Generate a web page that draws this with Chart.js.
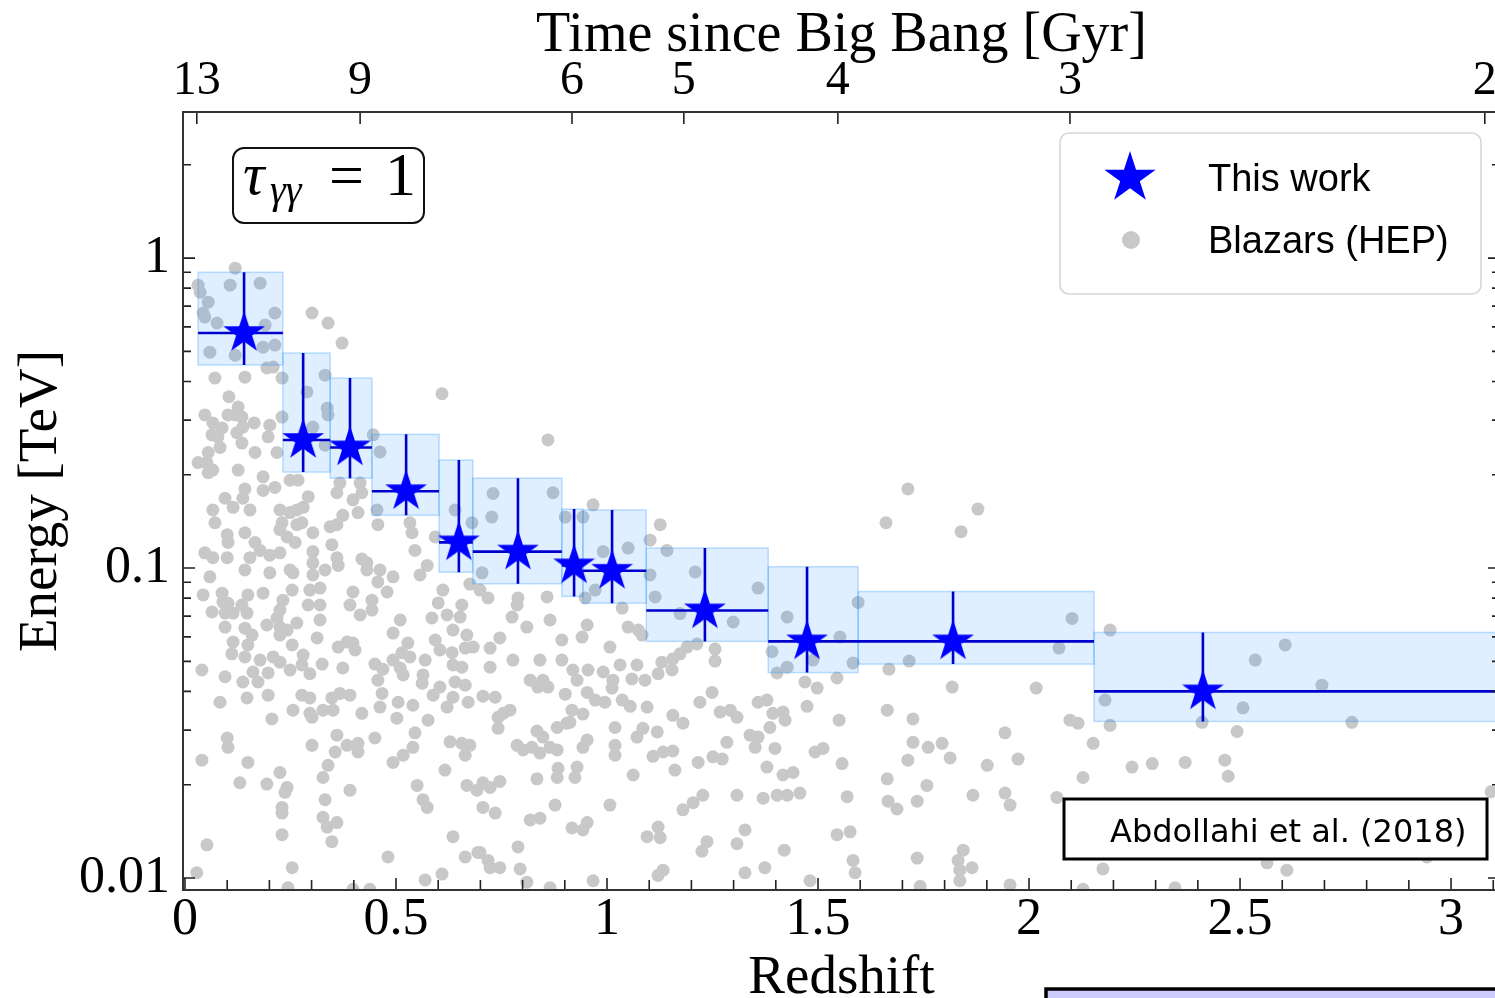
<!DOCTYPE html>
<html>
<head>
<meta charset="utf-8">
<title>Pair-production horizon vs redshift</title>
<script src="https://cdn.jsdelivr.net/npm/chart.js@4.4.1/dist/chart.umd.min.js"></script>
<style>
  html, body { margin: 0; padding: 0; background: #fff; overflow: hidden; }
  canvas { display: block; }
</style>
</head>
<body>
<canvas id="chart" width="1500" height="998"></canvas>
<script>
// redshift bins of this work (tau_gg = 1 energies, TeV)
const binLow  = [0.031, 0.232, 0.344, 0.443, 0.602, 0.682, 0.893, 0.943, 1.093, 1.382, 1.595, 2.154];
const binHigh = [0.232, 0.344, 0.443, 0.602, 0.682, 0.893, 0.943, 1.093, 1.382, 1.595, 2.154, 3.600];
const starZ   = [0.140, 0.280, 0.391, 0.524, 0.649, 0.789, 0.922, 1.012, 1.232, 1.474, 1.820, 2.412];
const starE   = [0.573, 0.259, 0.245, 0.177, 0.121, 0.113, 0.102, 0.098, 0.073, 0.058, 0.058, 0.040];
const eLow    = [0.452, 0.204, 0.195, 0.148, 0.097, 0.089, 0.081, 0.077, 0.058, 0.046, 0.049, 0.032];
const eHigh   = [0.900, 0.494, 0.410, 0.270, 0.223, 0.195, 0.155, 0.154, 0.116, 0.101, 0.084, 0.062];

// highest-energy photons of blazars (redshift, TeV)
const blazarZ = [
  0.031,0.107,0.178,0.055,0.043,0.047,0.076,0.213,0.190,0.301,
  0.339,0.372,0.059,0.119,0.185,0.213,0.194,0.209,0.071,0.142,
  0.230,0.332,0.289,0.337,0.339,0.104,0.126,0.119,0.102,0.047,
  0.066,0.088,0.135,0.137,0.164,0.201,0.230,0.303,0.064,0.078,
  0.083,0.123,0.135,0.197,0.031,0.055,0.052,0.066,0.055,0.166,
  0.218,0.126,0.332,0.446,0.462,0.609,0.185,0.142,0.137,0.185,
  0.213,0.249,0.268,0.367,0.360,0.415,0.419,0.095,0.114,0.154,
  0.066,0.071,0.225,0.249,0.265,0.280,0.292,0.230,0.265,0.277,
  0.374,0.398,0.344,0.360,0.410,0.455,0.457,0.533,0.538,0.142,
  0.100,0.102,0.225,0.242,0.261,0.303,0.348,0.640,0.680,0.593,
  0.166,0.178,0.154,0.047,0.066,0.100,0.201,0.225,0.303,0.360,
  0.363,0.419,0.431,0.431,0.462,0.545,0.574,0.059,0.142,0.201,
  0.249,0.256,0.303,0.332,0.493,0.557,0.119,0.036,0.860,0.730,
  0.872,0.727,
  0.457,0.303,0.043,0.088,0.090,0.102,0.149,0.185,0.254,0.296,
  0.320,0.398,0.443,0.479,0.611,0.064,0.095,0.114,0.135,0.147,
  0.232,0.225,0.218,0.225,0.292,0.320,0.320,0.265,0.194,0.095,
  0.142,0.159,0.391,0.415,0.443,0.510,0.600,0.621,0.656,0.652,
  0.585,0.635,0.493,0.313,0.225,0.242,0.114,0.111,0.149,0.142,
  0.254,0.363,0.384,0.398,0.403,0.528,0.514,0.533,0.593,0.604,
  0.668,0.664,0.683,0.178,0.209,0.225,0.280,0.277,0.296,0.249,
  0.325,0.374,0.450,0.469,0.493,0.510,0.517,0.569,0.564,0.562,
  0.633,0.635,0.656,0.040,0.095,0.137,0.161,0.173,0.197,0.457,
  0.604,0.588,0.621,0.640,0.664,0.635,0.671,0.083,0.147,0.197,
  0.277,0.296,0.256,0.296,0.301,0.327,0.351,0.348,0.367,0.391,
  0.419,0.467,0.462,0.505,0.502,0.540,0.576,0.206,0.100,0.102,
  0.040,0.149,0.301,0.360,0.384,0.410,0.410,0.356,0.450,0.545,
  0.540,0.517,0.493,0.628,0.656,0.675,0.664,0.616,0.130,0.194,
  0.225,0.242,0.237,0.339,0.327,0.391,0.550,0.564,0.574,0.668,
  0.692,0.230,0.230,0.332,0.327,0.337,0.360,0.230,0.348,0.052,
  0.635,0.481,0.664,0.694,0.028,0.254,0.569,0.609,0.244,0.398,
  0.438,
  0.967,0.901,0.943,0.704,1.102,1.114,1.126,1.102,1.142,0.991,
  1.050,0.972,0.675,0.699,0.718,0.789,0.787,0.858,0.948,0.775,
  0.810,0.865,0.953,0.941,1.036,1.050,1.074,1.083,0.746,0.723,
  0.777,0.723,0.841,0.893,0.893,0.919,0.929,0.955,1.007,1.031,
  0.991,1.014,1.012,1.071,1.059,1.090,1.130,1.121,0.818,0.836,
  0.848,0.860,0.901,0.917,0.912,0.943,0.953,0.972,0.995,1.036,
  1.055,1.095,1.019,0.742,0.754,0.770,0.742,0.706,0.735,0.834,
  0.848,0.882,0.905,1.071,1.085,1.119,0.787,0.801,0.822,0.841,
  0.882,0.865,0.953,0.943,1.019,1.019,1.109,1.133,0.884,0.882,
  0.929,0.924,0.834,1.062,0.706,0.723,0.746,0.877,1.007,0.818,
  0.841,0.917,0.943,0.953,1.095,1.121,1.126,0.706,0.735,0.789,
  0.794,0.810,0.967,0.865,1.121,1.133,0.746,0.723,0.718,0.699,
  1.713,1.879,1.661,1.839,1.209,1.358,1.173,1.299,1.256,1.256,
  1.213,1.190,1.156,1.173,1.154,1.427,1.391,1.552,1.488,1.427,
  1.403,1.595,1.583,1.668,1.716,1.545,1.469,1.498,2.102,2.071,
  1.818,2.017,2.192,2.180,2.192,1.249,1.220,1.156,1.180,1.474,
  1.550,1.664,1.725,1.268,1.292,1.308,1.358,1.379,1.393,1.417,
  1.422,1.386,1.339,1.358,1.284,1.351,1.398,1.943,2.097,2.116,
  2.152,1.725,1.713,1.761,1.794,1.813,1.901,1.974,1.156,1.161,
  1.216,1.251,1.273,1.379,1.417,1.441,1.493,1.512,1.557,1.664,
  1.758,1.867,1.943,1.955,2.128,2.066,2.244,1.227,1.204,1.180,
  1.308,1.370,1.403,1.427,1.457,1.569,1.666,1.687,1.735,1.237,
  1.225,1.308,1.327,1.420,1.545,1.576,1.735,1.844,1.832,1.836,
  1.865,1.374,1.327,1.583,1.588,1.481,1.742,1.836,1.955,2.128,
  2.175,
  2.607,2.536,2.694,2.507,2.493,2.765,2.464,2.472,2.370,
  2.292,2.410,3.095,2.564,2.611,2.943,2.346
];
const blazarE = [
  0.818,0.818,0.830,0.721,0.665,0.645,0.617,0.665,0.608,0.665,
  0.617,0.532,0.497,0.486,0.516,0.524,0.442,0.445,0.410,0.413,
  0.410,0.419,0.370,0.328,0.312,0.357,0.331,0.312,0.312,0.312,
  0.294,0.283,0.307,0.285,0.294,0.289,0.307,0.285,0.269,0.265,
  0.245,0.273,0.253,0.265,0.219,0.236,0.219,0.207,0.203,0.236,
  0.236,0.207,0.249,0.269,0.237,0.365,0.197,0.180,0.168,0.178,
  0.182,0.192,0.192,0.188,0.175,0.188,0.175,0.168,0.157,0.154,
  0.154,0.140,0.154,0.151,0.154,0.157,0.170,0.140,0.138,0.140,
  0.148,0.166,0.136,0.138,0.151,0.154,0.138,0.140,0.130,0.130,
  0.128,0.121,0.133,0.126,0.121,0.130,0.119,0.154,0.140,0.126,
  0.121,0.114,0.108,0.112,0.108,0.108,0.110,0.112,0.113,0.108,
  0.102,0.107,0.104,0.0986,0.0986,0.114,0.102,0.0937,0.0986,0.0965,
  0.0986,0.0965,0.104,0.0986,0.0937,0.0950,0.928,0.776,0.259,0.174,
  0.175,0.146,
  0.0902,0.0950,0.0819,0.0830,0.0777,0.0770,0.0819,0.0830,0.0849,0.0849,
  0.0862,0.0837,0.0788,0.0837,0.0849,0.0722,0.0716,0.0716,0.0760,0.0716,
  0.0788,0.0732,0.0690,0.0645,0.0760,0.0760,0.0680,0.0665,0.0655,0.0645,
  0.0640,0.0608,0.0760,0.0706,0.0732,0.0680,0.0772,0.0706,0.0760,0.0695,
  0.0690,0.0631,0.0617,0.0595,0.0608,0.0631,0.0577,0.0529,0.0565,0.0517,
  0.0565,0.0556,0.0577,0.0573,0.0544,0.0573,0.0533,0.0517,0.0586,0.0544,
  0.0608,0.0552,0.0556,0.0505,0.0517,0.0497,0.0524,0.0487,0.0456,0.0469,
  0.0490,0.0476,0.0490,0.0472,0.0505,0.0476,0.0452,0.0505,0.0452,0.0425,
  0.0533,0.0487,0.0479,0.0469,0.0446,0.0429,0.0462,0.0429,0.0459,0.0435,
  0.0413,0.0389,0.0356,0.0429,0.0419,0.0383,0.0369,0.0369,0.0381,0.0389,
  0.0389,0.0381,0.0348,0.0340,0.0330,0.0348,0.0348,0.0381,0.0394,0.0389,
  0.0340,0.0394,0.0356,0.0369,0.0328,0.0361,0.0323,0.0326,0.0283,0.0264,
  0.0240,0.0236,0.0268,0.0289,0.0268,0.0272,0.0255,0.0255,0.0283,0.0294,
  0.0264,0.0249,0.0236,0.0275,0.0272,0.0268,0.0249,0.0223,0.0203,0.0201,
  0.0219,0.0196,0.0189,0.0231,0.0211,0.0192,0.0199,0.0179,0.0169,0.0199,
  0.0192,0.0169,0.0162,0.0179,0.0157,0.0146,0.0151,0.0138,0.0131,0.0128,
  0.0136,0.0117,0.0117,0.0121,0.0104,0.0108,0.00986,0.0103,0.0093,0.0092,
  0.0092,
  0.160,0.146,0.146,0.0965,0.0950,0.0807,0.138,0.123,0.114,0.113,
  0.116,0.0849,0.0888,0.0849,0.0801,0.0801,0.0760,0.0807,0.0801,0.0695,
  0.0645,0.0680,0.0655,0.0599,0.0743,0.0645,0.0631,0.0608,0.0595,0.0552,
  0.0505,0.0479,0.0505,0.0586,0.0505,0.0469,0.0435,0.0469,0.0556,0.0487,
  0.0462,0.0435,0.0410,0.0487,0.0439,0.0435,0.0497,0.0456,0.0435,0.0413,
  0.0435,0.0413,0.0392,0.0348,0.0318,0.0338,0.0397,0.0375,0.0369,0.0375,
  0.0358,0.0356,0.0306,0.0330,0.0340,0.0348,0.0304,0.0386,0.0383,0.0298,
  0.0285,0.0306,0.0316,0.0285,0.0304,0.0296,0.0268,0.0259,0.0264,0.0253,
  0.0259,0.0264,0.0279,0.0264,0.0268,0.0249,0.0247,0.0255,0.0226,0.0211,
  0.0228,0.0211,0.0209,0.0215,0.0203,0.0196,0.0205,0.0172,0.0172,0.0154,
  0.0156,0.0145,0.0143,0.0151,0.0136,0.0146,0.0135,0.0169,0.0162,0.0126,
  0.0107,0.0097,0.0098,0.0093,0.0102,0.0106,0.0108,0.0108,0.0114,0.0121,
  0.180,0.155,0.140,0.131,0.0972,0.0862,0.0713,0.0670,0.0548,0.0501,
  0.0569,0.0556,0.0509,0.0529,0.0469,0.0695,0.0537,0.0599,0.0505,0.0479,
  0.0459,0.0775,0.0494,0.0472,0.0501,0.0442,0.0429,0.0410,0.0688,0.0552,
  0.0413,0.0410,0.0631,0.0375,0.0311,0.0397,0.0369,0.0335,0.0316,0.0358,
  0.0323,0.0348,0.0326,0.0343,0.0348,0.0330,0.0369,0.0375,0.0340,0.0343,
  0.0323,0.0306,0.0289,0.0285,0.0274,0.0264,0.0262,0.0294,0.0323,0.0316,
  0.0272,0.0274,0.0240,0.0264,0.0272,0.0244,0.0231,0.0242,0.0257,0.0223,
  0.0236,0.0246,0.0242,0.0228,0.0215,0.0219,0.0255,0.0262,0.0234,0.0209,
  0.0199,0.0185,0.0188,0.0172,0.0211,0.0182,0.0228,0.0185,0.0175,0.0166,
  0.0185,0.0181,0.0185,0.0185,0.0188,0.0183,0.0177,0.0167,0.0177,0.0131,
  0.0122,0.0129,0.0143,0.0123,0.0138,0.0141,0.0116,0.0123,0.0114,0.0106,
  0.0108,0.0108,0.0104,0.0114,0.0104,0.0098,0.0094,0.0098,0.0095,0.0092,
  0.0107,
  0.0565,0.0505,0.0419,0.0354,0.0297,0.0318,0.0240,0.0213,0.0236,
  0.0234,0.0318,0.0190,0.0112,0.0106,0.0117,0.0093
];

// axes
const zMin = -0.0047, zMax = 3.116;
const eMin = 0.00915, eMax = 2.96;
const xTickValues = [0, 0.5, 1, 1.5, 2, 2.5, 3];
const xTickLabels = ['0', '0.5', '1', '1.5', '2', '2.5', '3'];
const ageTickZ = [0.028, 0.415, 0.917, 1.182, 1.547, 2.097, 3.080];
const ageTickLabels = ['13', '9', '6', '5', '4', '3', '2'];
const yTickValues = [0.01, 0.1, 1];
const yTickLabels = ['0.01', '0.1', '1'];

const SERIF = '"Liberation Serif", "DejaVu Serif", serif';
const SANS = '"Liberation Sans", Arial, sans-serif';

function starCanvas(r, color) {
  const c = document.createElement('canvas');
  const s = Math.ceil(r * 2 + 4);
  c.width = s; c.height = s;
  const g = c.getContext('2d');
  g.translate(s / 2, s / 2);
  g.beginPath();
  for (let i = 0; i < 10; i++) {
    const rad = i % 2 === 0 ? r : r * 0.382;
    const ang = -Math.PI / 2 + i * Math.PI / 5;
    g.lineTo(rad * Math.cos(ang), rad * Math.sin(ang));
  }
  g.closePath();
  g.fillStyle = color;
  g.fill();
  return c;
}

function roundRect(ctx, x, y, w, h, r) {
  ctx.beginPath();
  ctx.moveTo(x + r, y);
  ctx.arcTo(x + w, y, x + w, y + h, r);
  ctx.arcTo(x + w, y + h, x, y + h, r);
  ctx.arcTo(x, y + h, x, y, r);
  ctx.arcTo(x, y, x + w, y, r);
  ctx.closePath();
}

// horizontal axes: fixed height, no extra side padding for edge labels
function fixHeight(h) {
  return s => { s.height = h; s.paddingLeft = 0; s.paddingRight = 0; };
}

const plotStar = starCanvas(22, '#0000ff');
const legendStar = starCanvas(27, '#0000ff');

const whiteBg = {
  id: 'whiteBg',
  beforeDraw(chart) {
    const { ctx, width, height } = chart;
    ctx.save();
    ctx.fillStyle = '#fff';
    ctx.fillRect(0, 0, width, height);
    ctx.restore();
  }
};

// shaded bins and error bars, drawn over the grey points and under the stars
const binBoxes = {
  id: 'binBoxes',
  beforeDatasetDraw(chart, args) {
    if (args.index !== 0) return;
    const { ctx, chartArea: a, scales: { x, y } } = chart;
    ctx.save();
    ctx.beginPath();
    ctx.rect(a.left, a.top, a.right - a.left, a.bottom - a.top);
    ctx.clip();
    binLow.forEach((lo, i) => {
      const x0 = x.getPixelForValue(lo), x1 = x.getPixelForValue(binHigh[i]);
      const y0 = y.getPixelForValue(eHigh[i]), y1 = y.getPixelForValue(eLow[i]);
      ctx.fillStyle = 'rgba(30,144,255,0.14)';
      ctx.fillRect(x0, y0, x1 - x0, y1 - y0);
      ctx.strokeStyle = 'rgba(30,144,255,0.28)';
      ctx.lineWidth = 1.5;
      ctx.strokeRect(x0, y0, x1 - x0, y1 - y0);
    });
    ctx.strokeStyle = '#0000cd';
    ctx.lineWidth = 2.6;
    ctx.beginPath();
    starZ.forEach((z, i) => {
      const px = x.getPixelForValue(z), py = y.getPixelForValue(starE[i]);
      ctx.moveTo(x.getPixelForValue(binLow[i]), py);
      ctx.lineTo(x.getPixelForValue(binHigh[i]), py);
      ctx.moveTo(px, y.getPixelForValue(eHigh[i]));
      ctx.lineTo(px, y.getPixelForValue(eLow[i]));
    });
    ctx.stroke();
    ctx.restore();
  }
};

// boxed frame with inward ticks
const frameTicks = {
  id: 'frameTicks',
  afterDatasetsDraw(chart) {
    const { ctx, chartArea: a, scales: { x, x2, y } } = chart;
    ctx.save();
    ctx.strokeStyle = '#222';
    ctx.lineWidth = 1.6;
    ctx.beginPath();
    for (let k = 0; k * 0.1 <= zMax; k++) {
      const px = x.getPixelForValue(k * 0.1);
      if (px < a.left) continue;
      const len = k % 5 === 0 ? 12 : 10;
      ctx.moveTo(px, a.bottom); ctx.lineTo(px, a.bottom - len);
    }
    x2.ticks.forEach(t => {
      const px = x2.getPixelForValue(t.value);
      ctx.moveTo(px, a.top); ctx.lineTo(px, a.top + 12);
    });
    [0.001, 0.01, 0.1, 1].forEach(dec => {
      for (let m = 1; m <= 9; m++) {
        const v = m * dec;
        if (v < eMin || v > eMax) continue;
        const py = y.getPixelForValue(v);
        const len = m === 1 ? 12 : 8;
        ctx.moveTo(a.left, py); ctx.lineTo(a.left + len, py);
        ctx.moveTo(a.right, py); ctx.lineTo(a.right - len, py);
      }
    });
    ctx.stroke();
    ctx.strokeStyle = '#333';
    ctx.lineWidth = 2;
    ctx.strokeRect(a.left, a.top, a.right - a.left, a.bottom - a.top);
    ctx.restore();
  }
};

// tau label, legend, reference box
const annotations = {
  id: 'annotations',
  afterDraw(chart) {
    const { ctx } = chart;
    const ds = chart.data.datasets;
    ctx.save();

    roundRect(ctx, 233, 148, 191, 75, 11);
    ctx.fillStyle = '#fff';
    ctx.fill();
    ctx.strokeStyle = '#111';
    ctx.lineWidth = 2;
    ctx.stroke();
    ctx.fillStyle = '#000';
    ctx.textBaseline = 'alphabetic';
    ctx.font = 'italic 60px ' + SERIF;
    ctx.fillText('\u03c4', 243, 194);
    ctx.font = 'italic 40px ' + SERIF;
    ctx.fillText('\u03b3\u03b3', 270, 203);
    ctx.font = '62px ' + SERIF;
    ctx.fillText('=', 329, 196);
    ctx.fillText('1', 385, 195);

    roundRect(ctx, 1060, 133, 421, 161, 9);
    ctx.fillStyle = 'rgba(255,255,255,0.85)';
    ctx.fill();
    ctx.strokeStyle = '#d6d6d6';
    ctx.lineWidth = 1.6;
    ctx.stroke();
    ctx.drawImage(legendStar, 1130 - legendStar.width / 2, 178 - legendStar.height / 2);
    ctx.beginPath();
    ctx.arc(1131, 240, 9, 0, Math.PI * 2);
    ctx.fillStyle = ds[1].backgroundColor;
    ctx.fill();
    ctx.fillStyle = '#000';
    ctx.font = '38px ' + SANS;
    ctx.fillText(ds[0].label, 1208, 191);
    ctx.fillText(ds[1].label, 1208, 253);

    ctx.fillStyle = '#fff';
    ctx.fillRect(1064, 799, 423, 60);
    ctx.strokeStyle = '#000';
    ctx.lineWidth = 3;
    ctx.strokeRect(1064, 799, 423, 60);
    ctx.fillStyle = '#000';
    ctx.font = '32px "DejaVu Sans", sans-serif';
    ctx.fillText('Abdollahi et al. (2018)', 1110, 842);

    ctx.fillStyle = '#ccccff';
    ctx.fillRect(1046, 989, 470, 30);
    ctx.strokeStyle = '#000';
    ctx.lineWidth = 3.5;
    ctx.strokeRect(1046, 989, 470, 30);
    ctx.restore();
  }
};

new Chart(document.getElementById('chart'), {
  type: 'scatter',
  data: {
    datasets: [
      {
        label: 'This work',
        data: starZ.map((z, i) => ({ x: z, y: starE[i] })),
        pointStyle: plotStar,
        pointRadius: 22,
        backgroundColor: '#0000ff',
        clip: 0
      },
      {
        label: 'Blazars (HEP)',
        data: blazarZ.map((z, i) => ({ x: z, y: blazarE[i] })),
        pointRadius: 6.5,
        pointBorderWidth: 0,
        backgroundColor: '#c8c8c8',
        borderColor: '#c8c8c8',
        clip: 0
      }
    ]
  },
  options: {
    responsive: false,
    animation: false,
    events: [],
    layout: { padding: 0, autoPadding: false },
    plugins: { legend: { display: false }, tooltip: { enabled: false } },
    scales: {
      x: {
        type: 'linear', position: 'bottom', bounds: 'data', min: zMin, max: zMax,
        afterBuildTicks: s => { s.ticks = xTickValues.map(v => ({ value: v })); },
        afterFit: fixHeight(108),
        grid: { display: false, drawTicks: false },
        border: { display: false },
        ticks: {
          autoSkip: false, maxRotation: 0, padding: -1, color: '#000',
          font: { family: SERIF, size: 52 },
          callback: (v, i) => xTickLabels[i]
        },
        title: { display: true, text: 'Redshift', color: '#000', font: { family: SERIF, size: 55, lineHeight: 1 }, padding: { top: 0, bottom: -8 } }
      },
      x2: {
        type: 'linear', position: 'top', bounds: 'data', min: zMin, max: zMax,
        afterBuildTicks: s => { s.ticks = ageTickZ.map(v => ({ value: v })); },
        afterFit: fixHeight(112),
        grid: { display: false, drawTicks: false },
        border: { display: false },
        ticks: {
          autoSkip: false, maxRotation: 0, padding: 2, color: '#000',
          font: { family: SERIF, size: 48 },
          callback: (v, i) => ageTickLabels[i]
        },
        title: { display: true, text: 'Time since Big Bang [Gyr]', color: '#000', font: { family: SERIF, size: 56, lineHeight: 1 }, padding: { top: 8, bottom: 0 } }
      },
      y: {
        type: 'logarithmic', position: 'left', bounds: 'data', min: eMin, max: eMax,
        afterBuildTicks: s => { s.ticks = yTickValues.map(v => ({ value: v })); },
        afterFit: s => { s.width = 183; s.paddingTop = 0; s.paddingBottom = 0; },
        grid: { display: false, drawTicks: false },
        border: { display: false },
        ticks: {
          autoSkip: false, padding: 13, color: '#000',
          font: { family: SERIF, size: 52 },
          callback: (v, i) => yTickLabels[i]
        },
        title: { display: true, text: 'Energy [TeV]', color: '#000', font: { family: SERIF, size: 55, lineHeight: 1 }, padding: { top: 14, bottom: 0 } }
      }
    }
  },
  plugins: [whiteBg, binBoxes, frameTicks, annotations]
});
</script>
</body>
</html>
